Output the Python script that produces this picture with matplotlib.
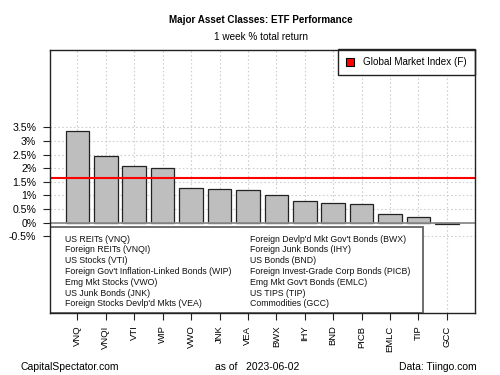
import matplotlib
matplotlib.use("Agg")
import matplotlib.pyplot as plt
from matplotlib.patches import Rectangle, Patch

plt.rcParams['font.family'] = ['Liberation Sans', 'DejaVu Sans']

tickers = ["VNQ", "VNQI", "VTI", "WIP", "VWO", "JNK", "VEA", "BWX", "IHY",
           "BND", "PICB", "EMLC", "TIP", "GCC"]
returns = [3.37, 2.43, 2.09, 2.00, 1.28, 1.25, 1.19, 1.00, 0.80,
           0.71, 0.67, 0.33, 0.21, -0.06]
global_index = 1.63
names_col1 = ["US REITs (VNQ)", "Foreign REITs (VNQI)", "US Stocks (VTI)",
              "Foreign Gov't Inflation-Linked Bonds (WIP)", "Emg Mkt Stocks (VWO)",
              "US Junk Bonds (JNK)", "Foreign Stocks Devlp'd Mkts (VEA)"]
names_col2 = ["Foreign Devlp'd Mkt Gov't Bonds (BWX)", "Foreign Junk Bonds (IHY)",
              "US Bonds (BND)", "Foreign Invest-Grade Corp Bonds (PICB)",
              "Emg Mkt Gov't Bonds (EMLC)", "US TIPS (TIP)", "Commodities (GCC)"]
yticks = [-0.5, 0, 0.5, 1, 1.5, 2, 2.5, 3, 3.5]
ytick_labels = ["-0.5%", "0%", "0.5%", "1%", "1.5%", "2%", "2.5%", "3%", "3.5%"]

fig = plt.figure(figsize=(5, 3.75), dpi=100)
ax = fig.add_axes([0.099, 0.1653, 0.85, 0.7027])
x = list(range(len(tickers)))
ax.set_xlim(-0.98, 13.97)
ax.set_ylim(-3.31, 6.35)

grid_kw = dict(color='#CFCFCF', lw=0.8, ls=(0, (1.5, 2)), zorder=0)
for xi in x:
    ax.axvline(xi, **grid_kw)
for yt in yticks:
    ax.axhline(yt, **grid_kw)

ax.bar(x, returns, width=0.833, color='#BEBEBE', edgecolor='#222222', lw=0.9, zorder=2)
ax.axhline(0, color='#8C8C8C', lw=1.3, zorder=3)
ax.axhline(global_index, color='red', lw=1.5, zorder=4)

# bottom legend box with names
bx0, bx1 = -0.98, 12.145
by1 = -0.147
ax.add_patch(Rectangle((bx0, -3.31), bx1 - bx0, by1 + 3.31, facecolor='white',
                       edgecolor='#6E6E6E', lw=1.4, zorder=5))
row_step = 0.396
NFS = 6.35
for i, t in enumerate(names_col1):
    ax.text(-0.43, -0.6 - i * row_step, t, fontsize=NFS, va='center', ha='left', zorder=6, color='#111111')
for i, t in enumerate(names_col2):
    ax.text(6.06, -0.6 - i * row_step, t, fontsize=NFS, va='center', ha='left', zorder=6, color='#111111')

leg = ax.legend(handles=[Patch(facecolor='red', edgecolor='black', lw=0.8)],
                labels=["Global Market Index (F)"], loc='upper right', fontsize=7.1,
                fancybox=False, borderaxespad=0, framealpha=1, handlelength=0.85,
                handleheight=0.85, borderpad=0.8, handletextpad=0.9)
leg.get_frame().set_edgecolor('#222222')
leg.get_frame().set_linewidth(1.0)
leg.set_zorder(7)

ax.set_yticks(yticks)
ax.set_yticklabels(ytick_labels, fontsize=7.6)
ax.set_xticks(x)
ax.set_xticklabels(tickers, rotation=90, fontsize=6.8, va='top', ha='center')
ax.tick_params(axis='both', length=5, width=0.8, color='#222222')
ax.tick_params(axis='y', pad=4.5)
ax.tick_params(axis='x', pad=4)
for s in ax.spines.values():
    s.set_linewidth(1.0)
    s.set_color('#222222')
    s.set_zorder(8)

fig.text(0.522, 1 - 20 / 375, "Major Asset Classes: ETF Performance", ha='center', va='center',
         fontsize=7.1, fontweight='bold')
fig.text(0.522, 1 - 37.3 / 375, "1 week % total return", ha='center', va='center', fontsize=7.2)
fig.text(0.041, 1 - 366.7 / 375, "CapitalSpectator.com", ha='left', va='center', fontsize=7.5)
fig.text(0.43, 1 - 366.7 / 375, "as of   2023-06-02", ha='left', va='center', fontsize=7.5)
fig.text(0.954, 1 - 366.7 / 375, "Data: Tiingo.com", ha='right', va='center', fontsize=7.5)

fig.savefig("out.png", dpi=100)
